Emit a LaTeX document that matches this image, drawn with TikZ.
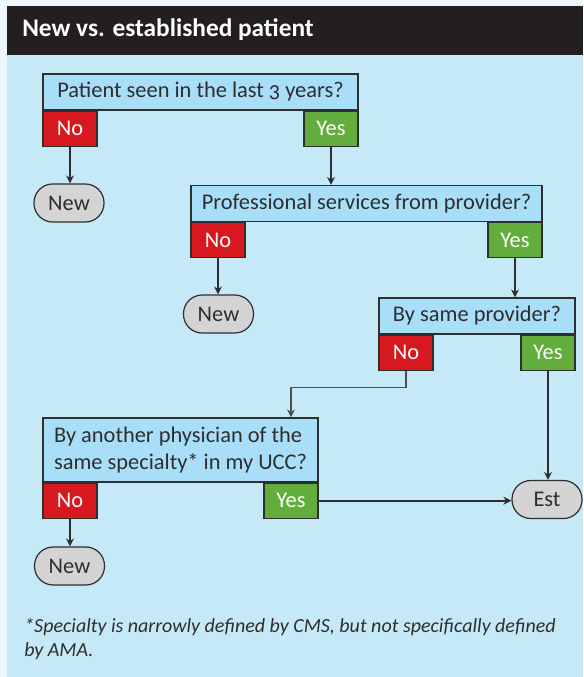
\documentclass[tikz,border=0pt]{standalone}
\usepackage{fontspec}
\setmainfont{Carlito}[Numbers=OldStyle]
\usetikzlibrary{arrows.meta,positioning}

\definecolor{pagebg}{HTML}{EEF7FD}
\definecolor{panelbg}{HTML}{C6E9F8}
\definecolor{headbg}{HTML}{231F20}
\definecolor{qblue}{HTML}{A9DEF8}
\definecolor{nored}{HTML}{D7181F}
\definecolor{yesgreen}{HTML}{62AD3B}
\definecolor{ovalgray}{HTML}{D4D4D4}
\definecolor{edge}{HTML}{2E2E2E}

\begin{document}
\begin{tikzpicture}[
    x=0.75pt, y=-0.75pt,
    font=\fontsize{16.8}{20.25}\selectfont,
    question/.style={rectangle, draw=edge, line width=0.9pt, fill=qblue, text=edge, minimum height=27pt, inner sep=0pt},
    answer/.style={rectangle, draw=edge, line width=0.9pt, text=white, minimum width=40.5pt, minimum height=26.25pt, inner sep=0pt},
    nobox/.style={answer, fill=nored},
    yesbox/.style={answer, fill=yesgreen},
    result/.style={rectangle, rounded corners=14pt, draw=edge, line width=0.9pt, fill=ovalgray, text=edge, minimum width=52.5pt, minimum height=28.5pt, inner sep=0pt},
    arrow/.style={-{Stealth[length=6pt,width=6pt]}, line width=1.4pt, draw=edge},
    elbow/.style={-{Stealth[length=6pt,width=6pt]}, line width=1pt, draw=edge!85}
]
    \useasboundingbox (0,0) rectangle (583,677);
    \fill[pagebg] (0,0) rectangle (583,677);
    \fill[panelbg] (7,55) rectangle (583,677);
    \fill[headbg] (7,6) rectangle (583,55);
    \node[anchor=base west, inner sep=0pt, text=white, font=\bfseries\fontsize{19}{22}\selectfont] (title) at (22,37) {New vs. established patient};

    % questions
    \node[question, minimum width=236.25pt] (q1) at (200.5,92) {Patient seen in the last 3 years?};
    \node[nobox, below right=0pt of q1.south west] (q1no) {No};
    \node[yesbox, below left=0pt of q1.south east] (q1yes) {Yes};

    \node[question, minimum width=263.25pt] (q2) at (366.5,203.5) {Professional services from provider?};
    \node[nobox, below right=0pt of q2.south west] (q2no) {No};
    \node[yesbox, below left=0pt of q2.south east] (q2yes) {Yes};

    \node[question, minimum width=147pt] (q3) at (477,316) {By same provider?};
    \node[nobox, below right=0pt of q3.south west] (q3no) {No};
    \node[yesbox, below left=0pt of q3.south east] (q3yes) {Yes};

    \node[question, minimum width=206.25pt, minimum height=48pt, align=left] (q4) at (180.5,450) {By another physician of the\\same specialty* in my UCC?};
    \node[nobox, below right=0pt of q4.south west] (q4no) {No};
    \node[yesbox, below left=0pt of q4.south east] (q4yes) {Yes};

    % outcomes
    \node[result] (new1) at (69,203) {New};
    \node[result] (new2) at (218.5,314) {New};
    \node[result] (new3) at (69.5,566) {New};
    \node[result] (est) at (547,499.5) {Est};

    \draw[arrow] (q1no.south) -- (q1no.south |- new1.north);
    \draw[arrow] (q1yes.south) -- (q1yes.south |- q2.north);
    \draw[arrow] (q2no.south) -- (q2no.south |- new2.north);
    \draw[arrow] (q2yes.south) -- (q2yes.south |- q3.north);
    \draw[elbow] (q3no.south) -- ++(0,17) -| (q4yes.center |- q4.north);
    \draw[arrow] (q3yes.south) -- (q3yes.south |- est.north);
    \draw[arrow] (q4yes.east) -- (q4yes.east -| est.west);
    \draw[arrow] (q4no.south) -- (q4no.south |- new3.north);

    \node[anchor=base west, inner sep=0pt, align=left, text=edge, font=\itshape\fontsize{15}{18}\selectfont] (note) at (24,656) {*Specialty is narrowly defined by CMS, but not specifically defined\\by AMA.};

\end{tikzpicture}
\end{document}
